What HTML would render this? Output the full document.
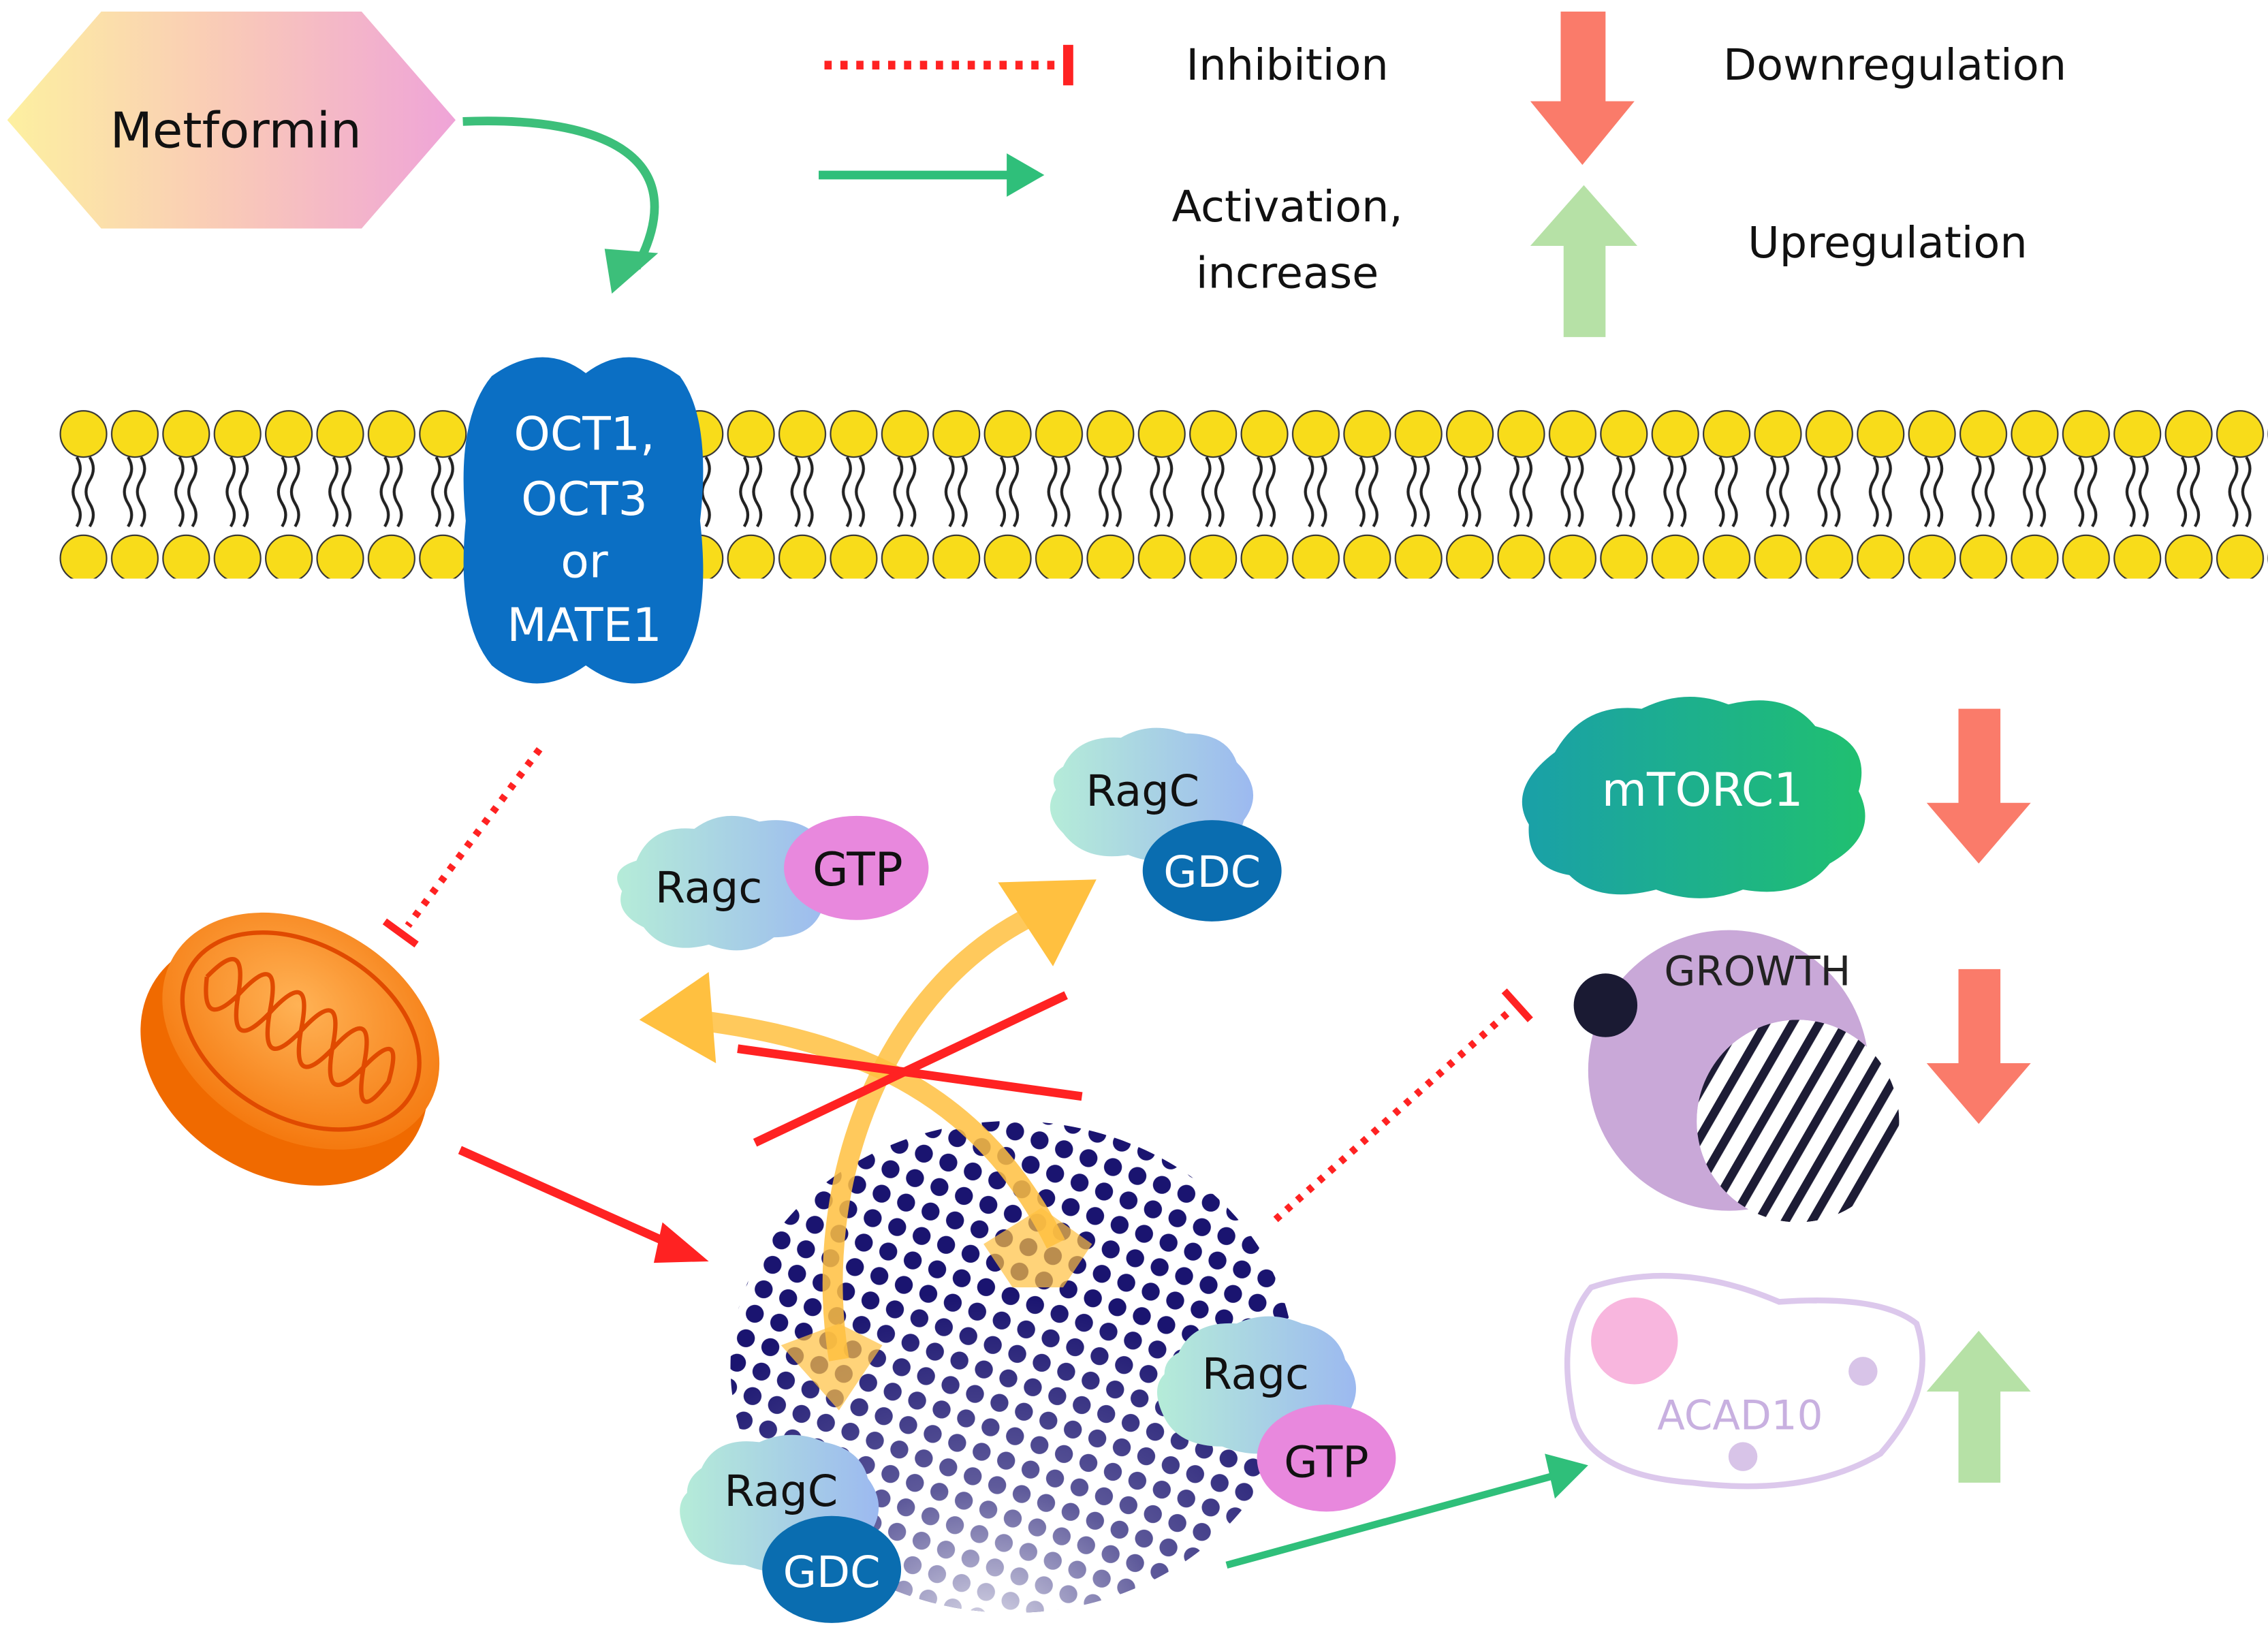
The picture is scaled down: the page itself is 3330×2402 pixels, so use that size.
<!DOCTYPE html>
<html><head><meta charset="utf-8"><style>
html,body{margin:0;padding:0;background:#fff;}
svg{display:block;}
text{font-family:"DejaVu Sans","Liberation Sans",sans-serif;}
</style></head><body>
<svg width="3330" height="2402" viewBox="0 0 1568 1131" xmlns="http://www.w3.org/2000/svg" preserveAspectRatio="none">
<defs>
<linearGradient id="hex" x1="0" x2="1"><stop offset="0" stop-color="#fdf0a0"/><stop offset="0.5" stop-color="#f9c9b8"/><stop offset="1" stop-color="#efa4d8"/></linearGradient>
<linearGradient id="cl" x1="0" x2="1"><stop offset="0" stop-color="#b5ecd8"/><stop offset="1" stop-color="#9cb9f0"/></linearGradient>
<linearGradient id="mt" x1="0" x2="1"><stop offset="0" stop-color="#1aa0a8"/><stop offset="1" stop-color="#20c070"/></linearGradient>
<radialGradient id="mito" cx="0.45" cy="0.4" r="0.6"><stop offset="0" stop-color="#ffb255"/><stop offset="1" stop-color="#f57a10"/></radialGradient>
<pattern id="dots" width="18" height="18" patternUnits="userSpaceOnUse" patternTransform="rotate(20)"><circle cx="9" cy="9" r="6.2" fill="#1a1470"/></pattern>
<radialGradient id="fade" cx="0.45" cy="1.05" r="0.7"><stop offset="0" stop-color="#fff" stop-opacity="0.9"/><stop offset="0.45" stop-color="#fff" stop-opacity="0.3"/><stop offset="1" stop-color="#fff" stop-opacity="0"/></radialGradient>
<clipPath id="sph"><ellipse cx="700" cy="945" rx="195" ry="170"/></clipPath>
<clipPath id="hc"><circle cx="1243" cy="775" r="70"/></clipPath>
<pattern id="hatch" width="16" height="16" patternUnits="userSpaceOnUse" patternTransform="rotate(30)"><rect width="16" height="16" fill="#fff"/><rect width="6" height="16" fill="#1d1c35"/></pattern>
<pattern id="head" x="40" y="0" width="35.5" height="400" patternUnits="userSpaceOnUse">
<circle cx="17.7" cy="300" r="16" fill="#f8dc1a" stroke="#333" stroke-width="1"/>
<circle cx="17.7" cy="386" r="16" fill="#f8dc1a" stroke="#333" stroke-width="1"/>
<path d="M13 316 q5 8 0 16 q-5 8 0 16 q5 8 0 16 M22 316 q5 8 0 16 q-5 8 0 16 q5 8 0 16" fill="none" stroke="#222" stroke-width="2"/>
</pattern>
</defs>

<polygon points="5,83 70,8 250,8 315,83 250,158 70,158" fill="url(#hex)"/>
<text x="163" y="102" font-size="34" text-anchor="middle" fill="#111">Metformin</text>
<path d="M320 84 C420 80 480 110 440 185" fill="none" stroke="#3cbf7a" stroke-width="6"/>
<polygon points="418,172 455,175 423,203" fill="#3cbf7a"/>

<line x1="570" y1="45" x2="733" y2="45" stroke="#f22" stroke-width="6" stroke-dasharray="5 6"/>
<rect x="735" y="31" width="7" height="28" fill="#f22"/>
<text x="890" y="55" font-size="30" text-anchor="middle" fill="#111">Inhibition</text>
<line x1="566" y1="121" x2="700" y2="121" stroke="#2fbf7a" stroke-width="6"/>
<polygon points="696,106 722,121 696,136" fill="#2fbf7a"/>
<text x="890" y="153" font-size="30" text-anchor="middle" fill="#111">Activation,</text>
<text x="890" y="199" font-size="30" text-anchor="middle" fill="#111">increase</text>
<polygon points="1079,8 1110,8 1110,70 1130,70 1094,114 1058,70 1079,70" fill="#fa7b6a"/>
<polygon points="1081,233 1110,233 1110,170 1132,170 1095,128 1058,170 1081,170" fill="#b6e1a6"/>
<text x="1310" y="55" font-size="30" text-anchor="middle" fill="#111">Downregulation</text>
<text x="1305" y="178" font-size="30" text-anchor="middle" fill="#111">Upregulation</text>

<rect x="40" y="280" width="1528" height="125" fill="url(#head)"/>
<path d="M340 260 Q375 235 405 258 Q435 235 470 260 Q492 290 484 360 Q492 430 470 460 Q440 485 405 460 Q370 485 340 460 Q315 430 322 360 Q315 290 340 260Z" fill="#0b6fc4"/>
<g font-size="32" fill="#fff" text-anchor="middle"><text x="404" y="311">OCT1,</text><text x="404" y="356">OCT3</text><text x="404" y="399">or</text><text x="404" y="443">MATE1</text></g>

<line x1="373" y1="518" x2="282" y2="640" stroke="#f22" stroke-width="5" stroke-dasharray="4 6"/>
<line x1="266" y1="637" x2="288" y2="653" stroke="#f22" stroke-width="5"/>
<g transform="rotate(30 205 718)">
<ellipse cx="205" cy="735" rx="105" ry="80" fill="#f06a00"/>
<ellipse cx="205" cy="712" rx="102" ry="74" fill="url(#mito)"/>
<path d="M130 712 q10-40 25 0 q10-45 25 0 q10-45 25 0 q10-45 25 0 q10-45 25 0 q10-40 20 0 q-5 40-20 0 q-10 40-25 0 q-10 40-25 0 q-10 40-25 0 q-10 40-25 0 q-10 35-25 0" fill="none" stroke="#e04a00" stroke-width="3"/>
<ellipse cx="205" cy="712" rx="88" ry="60" fill="none" stroke="#e04a00" stroke-width="3"/>
</g>
<line x1="318" y1="795" x2="468" y2="862" stroke="#f22" stroke-width="6"/>
<polygon points="458,845 490,872 452,873" fill="#f22"/>

<g clip-path="url(#sph)"><rect x="500" y="770" width="400" height="350" fill="url(#dots)"/><rect x="500" y="770" width="400" height="350" fill="url(#fade)"/></g>

<path d="M730 860 C680 760 600 720 480 705" fill="none" stroke="#ffc040" stroke-opacity="0.85" stroke-width="14"/>
<polygon points="442,705 490,672 495,735" fill="#ffc040"/>
<path d="M580 940 C560 820 610 680 720 630" fill="none" stroke="#ffc040" stroke-opacity="0.85" stroke-width="14"/>
<polygon points="758,608 690,610 728,668" fill="#ffc040"/>
<polygon points="680,860 720,835 755,860 735,890 700,890" fill="#ffc040" fill-opacity="0.7"/>
<polygon points="540,930 580,915 610,930 580,975" fill="#ffc040" fill-opacity="0.7"/>
<line x1="510" y1="725" x2="748" y2="758" stroke="#f22" stroke-width="6"/>
<line x1="522" y1="790" x2="737" y2="688" stroke="#f22" stroke-width="6"/>

<g>
<path d="M440 595 q10-25 40-22 q20-15 45-5 q30-5 45 15 q15 20 0 40 q-5 25-35 25 q-20 15-45 5 q-30 8-45-12 q-20-10-15-25 q-10-15 10-21z" fill="url(#cl)"/>
<ellipse cx="592" cy="600" rx="50" ry="36" fill="#e888dd"/>
<text x="490" y="624" font-size="30" text-anchor="middle" fill="#111">Ragc</text>
<text x="593" y="612" font-size="32" text-anchor="middle" fill="#111">GTP</text>
</g>
<g>
<path d="M735 530 q10-22 40-20 q20-12 45-3 q28 0 35 20 q20 20 5 40 q-5 20-30 22 q-25 12-50 2 q-30 5-45-15 q-15-15-5-30 q-5-10 5-16z" fill="url(#cl)"/>
<ellipse cx="838" cy="602" rx="48" ry="35" fill="#0a6db0"/>
<text x="790" y="557" font-size="30" text-anchor="middle" fill="#111">RagC</text>
<text x="838" y="613" font-size="30" text-anchor="middle" fill="#fff">GDC</text>
</g>
<g>
<path d="M815 935 q10-22 40-20 q22-10 45 0 q25 5 30 25 q15 20 0 40 q-10 20-35 20 q-25 10-50 0 q-30 0-40-20 q-10-20 0-30 q0-10 10-15z" fill="url(#cl)"/>
<ellipse cx="917" cy="1008" rx="48" ry="37" fill="#e888dd"/>
<text x="868" y="960" font-size="30" text-anchor="middle" fill="#111">Ragc</text>
<text x="917" y="1021" font-size="30" text-anchor="middle" fill="#111">GTP</text>
</g>
<g>
<path d="M485 1015 q10-22 40-18 q22-10 45 0 q25 5 30 25 q15 20 0 40 q-10 20-35 20 q-25 10-50 0 q-30 0-40-20 q-10-20 0-30 q0-10 10-17z" fill="url(#cl)"/>
<ellipse cx="575" cy="1085" rx="48" ry="37" fill="#0a6db0"/>
<text x="540" y="1041" font-size="30" text-anchor="middle" fill="#111">RagC</text>
<text x="575" y="1097" font-size="30" text-anchor="middle" fill="#fff">GDC</text>
</g>

<path d="M1075 520 q20-35 60-30 q30-15 60-3 q40-10 60 15 q40 10 30 45 q15 30-20 50 q-20 25-60 18 q-30 12-60 0 q-40 10-60-10 q-30-5-28-35 q-15-25 18-50z" fill="url(#mt)"/>
<text x="1177" y="557" font-size="32" text-anchor="middle" fill="#fff">mTORC1</text>
<polygon points="1354,490 1383,490 1383,555 1404,555 1368,597 1332,555 1354,555" fill="#fa7b6a"/>
<polygon points="1354,670 1383,670 1383,735 1404,735 1368,777 1332,735 1354,735" fill="#fa7b6a"/>
<polygon points="1354,1025 1383,1025 1383,962 1404,962 1368,920 1332,962 1354,962" fill="#b6e1a6"/>

<circle cx="1195" cy="740" r="97" fill="#c9a8d8"/>
<circle cx="1243" cy="775" r="70" fill="url(#hatch)" clip-path="url(#hc)"/>
<circle cx="1110" cy="695" r="22" fill="#1a1a33"/>
<text x="1215" y="681" font-size="28" text-anchor="middle" fill="#222">GROWTH</text>
<line x1="882" y1="843" x2="1045" y2="698" stroke="#f22" stroke-width="5" stroke-dasharray="4 6"/>
<line x1="1040" y1="685" x2="1058" y2="705" stroke="#f22" stroke-width="5"/>

<path d="M1100 890 Q1160 870 1230 900 Q1300 895 1325 915 Q1340 960 1300 1005 Q1250 1035 1170 1025 Q1100 1020 1088 980 Q1075 920 1100 890Z" fill="#fff" stroke="#dcc8ec" stroke-width="4"/>
<circle cx="1130" cy="927" r="30" fill="#f8b6de"/>
<circle cx="1288" cy="948" r="10" fill="#d8c4e8"/>
<circle cx="1205" cy="1007" r="10" fill="#d8c4e8"/>
<text x="1203" y="988" font-size="28" text-anchor="middle" fill="#c8b0e0">ACAD10</text>
<line x1="848" y1="1082" x2="1075" y2="1020" stroke="#2fbf7a" stroke-width="5"/>
<polygon points="1068,1005 1098,1013 1075,1036" fill="#2fbf7a"/>
</svg>
</body></html>
